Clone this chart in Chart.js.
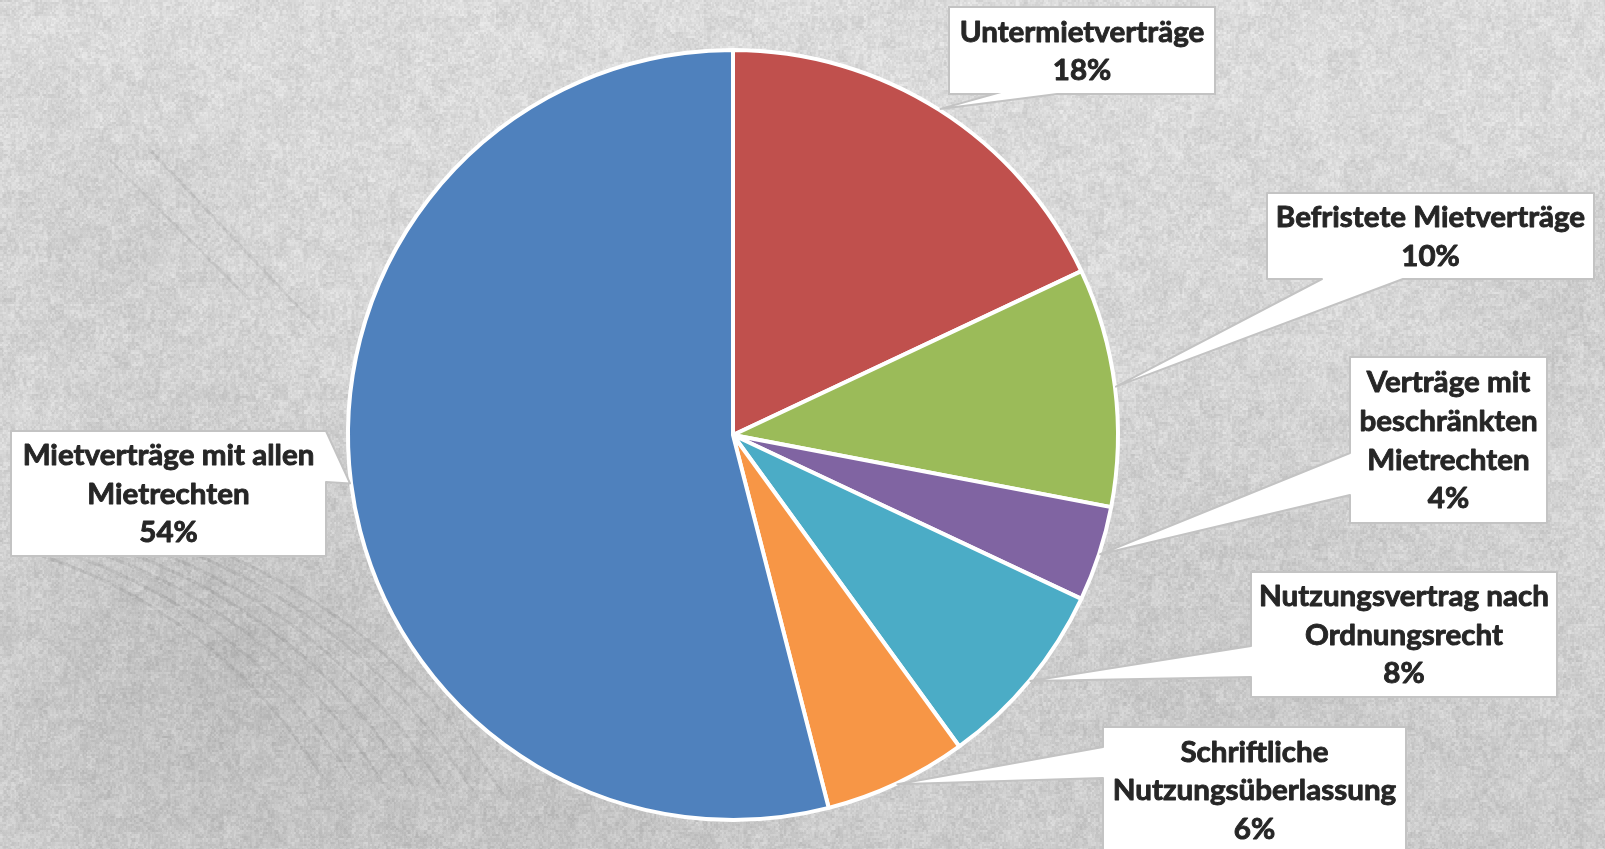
<!DOCTYPE html>
<html>
<head>
<meta charset="utf-8">
<script src="https://cdn.jsdelivr.net/npm/chart.js@4.4.1/dist/chart.umd.min.js"></script>
<style>
    html, body { margin: 0; padding: 0; overflow: hidden; background: #d2d2d2; }
    canvas { display: block; }
</style>
</head>
<body>
<canvas id="myChart" width="1605" height="849"></canvas>
<script>
const labels = ['Untermietverträge', 'Befristete Mietverträge', 'Verträge mit beschränkten Mietrechten',
    'Nutzungsvertrag nach Ordnungsrecht', 'Schriftliche Nutzungsüberlassung', 'Mietverträge mit allen Mietrechten'];
const shares = [18, 10, 4, 8, 6, 54];
const labelLines = [
    ['Untermietverträge'],
    ['Befristete Mietverträge'],
    ['Verträge mit', 'beschränkten', 'Mietrechten'],
    ['Nutzungsvertrag nach', 'Ordnungsrecht'],
    ['Schriftliche', 'Nutzungsüberlassung'],
    ['Mietverträge mit allen', 'Mietrechten']
];
const colors = ['#C0504D', '#9BBB59', '#8064A2', '#4BACC6', '#F79646', '#4F81BD'];

// callout boxes (layout only): rect, side the pointer leaves from, pointer base on that side
const boxes = [
    {x: 949, y: 7, w: 266, h: 87, side: 'bottom', base: [994, 1057]},
    {x: 1267, y: 193, w: 327, h: 86, side: 'bottom', base: [1322, 1403]},
    {x: 1350, y: 357, w: 197, h: 166, side: 'left', base: [453, 495]},
    {x: 1251, y: 572, w: 306, h: 125, side: 'left', base: [646, 677]},
    {x: 1103, y: 727, w: 303, h: 126, side: 'left', base: [747, 778]},
    {x: 11, y: 431, w: 315, h: 125, side: 'right', base: [431, 482]}
];

// concrete-like backdrop, deterministic noise
function hash(x, y) {
    let h = (x * 374761393 + y * 668265263) | 0;
    h = (h ^ (h >>> 13)) * 1274126177 | 0;
    return ((h ^ (h >>> 16)) >>> 0) / 4294967295;
}

let bgCanvas = null;
function makeBackground(w, h) {
    const c = document.createElement('canvas');
    c.width = w; c.height = h;
    const g = c.getContext('2d');
    const lin = g.createLinearGradient(0, 0, 0, h);
    lin.addColorStop(0, '#dbdbdb');
    lin.addColorStop(0.6, '#d3d3d3');
    lin.addColorStop(1, '#cbcbcb');
    g.fillStyle = lin;
    g.fillRect(0, 0, w, h);

    const patches = [[230, 650, 300, 0.13], [120, 250, 220, 0.05], [1250, 620, 280, 0.05], [560, 820, 260, 0.07], [1560, 300, 160, 0.06]];
    patches.forEach(([px, py, r, a]) => {
        const rg = g.createRadialGradient(px, py, 0, px, py, r);
        rg.addColorStop(0, `rgba(60,60,60,${a})`);
        rg.addColorStop(1, 'rgba(60,60,60,0)');
        g.fillStyle = rg;
        g.fillRect(0, 0, w, h);
    });

    // faint scratch marks bottom-left
    g.strokeStyle = 'rgba(80,80,80,0.09)';
    g.lineWidth = 3;
    for (let i = 0; i < 7; i++) {
        g.beginPath();
        g.arc(-120 + i * 18, 1050 + i * 10, 520 + i * 14, -1.3, -0.55);
        g.stroke();
    }
    g.beginPath(); g.moveTo(110, 160); g.lineTo(250, 300); g.stroke();
    g.beginPath(); g.moveTo(150, 150); g.lineTo(320, 330); g.stroke();

    const img = g.getImageData(0, 0, w, h);
    const d = img.data;
    for (let y = 0; y < h; y++) {
        for (let x = 0; x < w; x++) {
            const n = (hash(x >> 1, y >> 1) - 0.5) * 16 + (hash((x + 1) >> 2, (y + 2) >> 2) - 0.5) * 12 + (hash(x >> 4, y >> 4) - 0.5) * 8;
            const i = (y * w + x) * 4;
            d[i] += n; d[i + 1] += n; d[i + 2] += n;
        }
    }
    g.putImageData(img, 0, 0);
    return c;
}

const backgroundPlugin = {
    id: 'concrete',
    beforeDraw(chart) {
        if (!bgCanvas) bgCanvas = makeBackground(chart.width, chart.height);
        chart.ctx.drawImage(bgCanvas, 0, 0);
    }
};

function calloutPath(ctx, b, tip) {
    const r = b.x + b.w, bt = b.y + b.h;
    ctx.beginPath();
    ctx.moveTo(b.x, b.y);
    if (b.side === 'top') { ctx.lineTo(b.base[0], b.y); ctx.lineTo(tip.x, tip.y); ctx.lineTo(b.base[1], b.y); }
    ctx.lineTo(r, b.y);
    if (b.side === 'right') { ctx.lineTo(r, b.base[0]); ctx.lineTo(tip.x, tip.y); ctx.lineTo(r, b.base[1]); }
    ctx.lineTo(r, bt);
    if (b.side === 'bottom') { ctx.lineTo(b.base[1], bt); ctx.lineTo(tip.x, tip.y); ctx.lineTo(b.base[0], bt); }
    ctx.lineTo(b.x, bt);
    if (b.side === 'left') { ctx.lineTo(b.x, b.base[1]); ctx.lineTo(tip.x, tip.y); ctx.lineTo(b.x, b.base[0]); }
    ctx.closePath();
}

const calloutPlugin = {
    id: 'callouts',
    afterDraw(chart) {
        const ctx = chart.ctx;
        const meta = chart.getDatasetMeta(0);
        const total = shares.reduce((a, v) => a + v, 0);
        ctx.save();
        meta.data.forEach((arc, i) => {
            const p = arc.getProps(['x', 'y', 'startAngle', 'endAngle', 'outerRadius'], true);
            const mid = (p.startAngle + p.endAngle) / 2;
            const tip = {x: p.x + Math.cos(mid) * (p.outerRadius + 1), y: p.y + Math.sin(mid) * (p.outerRadius + 1)};
            const b = boxes[i];
            calloutPath(ctx, b, tip);
            ctx.fillStyle = '#ffffff';
            ctx.fill();
            ctx.lineWidth = 2;
            ctx.strokeStyle = '#c3c3c3';
            ctx.stroke();

            const lines = labelLines[i].concat([Math.round(shares[i] / total * 100) + '%']);
            const lh = 38.6;
            const cx = b.x + b.w / 2;
            const cy = b.y + b.h / 2 + 1;
            ctx.fillStyle = '#262626';
            ctx.strokeStyle = '#262626';
            ctx.lineWidth = 0.9;
            ctx.lineJoin = 'round';
            ctx.font = 'bold 29px Lato';
            ctx.textAlign = 'center';
            ctx.textBaseline = 'middle';
            lines.forEach((t, k) => {
                const ty = cy + (k - (lines.length - 1) / 2) * lh;
                ctx.save();
                ctx.translate(cx, ty);
                ctx.scale(1.02, 1);
                ctx.fillText(t, 0, 0);
                ctx.strokeText(t, 0, 0);
                ctx.restore();
            });
        });
        ctx.restore();
    }
};

function ShowChart() {
    const ctx = document.getElementById('myChart');
    new Chart(ctx, {
        type: 'pie',
        data: {
            labels: labels,
            datasets: [{
                data: shares,
                backgroundColor: colors,
                borderColor: '#ffffff',
                borderWidth: 4
            }]
        },
        options: {
            responsive: false,
            animation: false,
            layout: {padding: {left: 0, right: 139, top: 48, bottom: 27}},
            plugins: {
                legend: {display: false},
                tooltip: {enabled: false}
            }
        },
        plugins: [backgroundPlugin, calloutPlugin]
    });
}

window.addEventListener('load', ShowChart);
</script>
</body>
</html>
